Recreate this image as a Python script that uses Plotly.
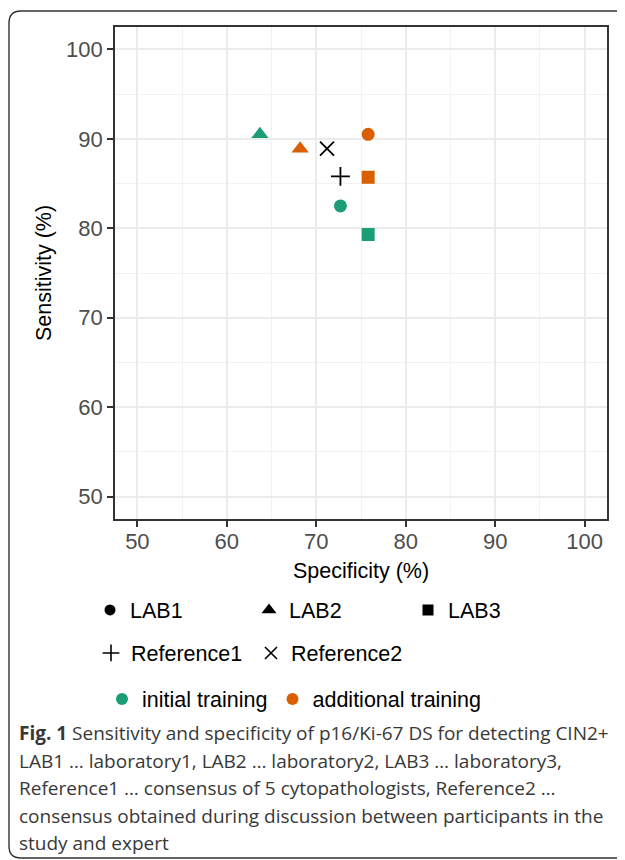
import plotly.graph_objects as go

# ---------------- data ----------------
labs = ["LAB1", "LAB2", "LAB3"]
spec_initial = [72.7, 63.7, 75.8]
sens_initial = [82.5, 90.5, 79.3]
spec_additional = [75.8, 68.2, 75.8]
sens_additional = [90.5, 88.9, 85.7]
references = ["Reference1", "Reference2"]
spec_reference = [72.7, 71.2]
sens_reference = [85.8, 88.9]
trainings = ["initial training", "additional training"]
axis_ticks = [50, 60, 70, 80, 90, 100]
caption_lines = [
    "<b>Fig. 1</b> Sensitivity and specificity of p16/Ki-67 DS for detecting CIN2+",
    "LAB1 \u2026 laboratory1, LAB2 \u2026 laboratory2, LAB3 \u2026 laboratory3,",
    "Reference1 \u2026 consensus of 5 cytopathologists, Reference2 \u2026",
    "consensus obtained during discussion between participants in the",
    "study and expert",
]

# ---------------- styles / layout (screen pixels, page body has 8px margin) ----------------
OFF = 8
W, H = 625 - OFF, 860 - OFF
P_LEFT, P_RIGHT, P_TOP, P_BOTTOM = 115, 607, 27, 519   # panel in screen px
ML = P_LEFT - OFF
MT = P_TOP - OFF
MR = W - (P_RIGHT - OFF)
MB = H - (P_BOTTOM - OFF)
PW, PH = W - ML - MR, H - MT - MB

lab_symbol = {"LAB1": "circle", "LAB2": "triangle-up", "LAB3": "square"}
lab_size = {"LAB1": 13, "LAB2": 15, "LAB3": 13}
lab_legend_size = {"LAB1": 11, "LAB2": 13, "LAB3": 11}
ref_symbol = {"Reference1": "cross-thin", "Reference2": "x-thin"}
ref_size = {"Reference1": 13.5, "Reference2": 14}
ref_legend_size = {"Reference1": 12, "Reference2": 12}
training_color = {"initial training": "#1B9E77", "additional training": "#D95F02"}
FONT = "Liberation Sans, Arial, sans-serif"


def PX(sx):  # screen x -> paper x
    return (sx - OFF - ML) / PW


def PY(sy):  # screen y -> paper y
    return 1 - (sy - OFF - MT) / PH


def CX(sx):  # screen x -> container x
    return (sx - OFF) / W


def CY(sy):  # screen y -> container y
    return 1 - (sy - OFF) / H


fig = go.Figure()

# data points
for tr, xs, ys in [("initial training", spec_initial, sens_initial),
                   ("additional training", spec_additional, sens_additional)]:
    fig.add_trace(go.Scatter(
        x=xs, y=ys, mode="markers", showlegend=False, name=tr,
        marker=dict(symbol=[lab_symbol[l] for l in labs],
                    size=[lab_size[l] for l in labs], opacity=1,
                    color=training_color[tr], line=dict(width=0)),
        hoverinfo="x+y+text", text=labs))

for i, r in enumerate(references):
    fig.add_trace(go.Scatter(
        x=[spec_reference[i]], y=[sens_reference[i]], mode="markers",
        showlegend=False, name=r,
        marker=dict(symbol=ref_symbol[r], size=ref_size[r], color="black", opacity=1,
                    line=dict(width=1.8, color="black"))))

# legend keys
for l in labs:
    fig.add_trace(go.Scatter(
        x=[None], y=[None], mode="markers", name=l, legend="legend",
        marker=dict(symbol=lab_symbol[l], size=lab_legend_size[l], color="black")))
for r in references:
    fig.add_trace(go.Scatter(
        x=[None], y=[None], mode="markers", name=r, legend="legend2",
        marker=dict(symbol=ref_symbol[r], size=ref_legend_size[r], color="black",
                    line=dict(width=1.6, color="black"))))
for t in trainings:
    fig.add_trace(go.Scatter(
        x=[None], y=[None], mode="markers", name=t, legend="legend3",
        marker=dict(symbol="circle", size=12, color=training_color[t])))

axis_common = dict(
    range=[47.5, 102.5], tickvals=axis_ticks, ticktext=[str(v) for v in axis_ticks],
    showgrid=True, gridcolor="#EBEBEB", gridwidth=1.8,
    minor=dict(dtick=5, tick0=0, showgrid=True, gridcolor="#F2F2F2", gridwidth=0.9),
    zeroline=False, showline=True, linecolor="#333333", linewidth=1.6, mirror=True,
    ticks="outside", ticklen=6, tickwidth=1.6, tickcolor="#333333",
    tickfont=dict(family=FONT, size=22, color="#4D4D4D"),
    fixedrange=True,
)

legend_common = dict(orientation="h", xref="container", yref="container",
                     xanchor="left", yanchor="middle", bgcolor="rgba(0,0,0,0)",
                     borderwidth=0, font=dict(family=FONT, size=21.5, color="black"),
                     itemclick=False, itemdoubleclick=False)

fig.update_layout(
    width=W, height=H,
    margin=dict(l=ML, r=MR, t=MT, b=MB, autoexpand=False),
    paper_bgcolor="white", plot_bgcolor="white",
    xaxis=dict(axis_common, ticklabelstandoff=-4,
               title=dict(text="Specificity (%)", standoff=10,
                          font=dict(family=FONT, size=21.5, color="black"))),
    yaxis=dict(axis_common,
               title=dict(text="Sensitivity (%)", standoff=9,
                          font=dict(family=FONT, size=21.5, color="black"))),
    legend=dict(legend_common, x=CX(90), y=CY(610), entrywidth=114, entrywidthmode="pixels"),
    legend2=dict(legend_common, x=CX(91), y=CY(653), entrywidth=115, entrywidthmode="pixels"),
    legend3=dict(legend_common, x=CX(102), y=CY(699)),
    showlegend=True,
)

# outer rounded frame
r = 12
L, T, B, R = 9, 11, 858, 680
frame_path = (f"M{PX(L)},{PY(B - r)} L{PX(L)},{PY(T + r)} Q{PX(L)},{PY(T)} {PX(L + r)},{PY(T)} "
              f"L{PX(R)},{PY(T)} M{PX(L)},{PY(B - r)} Q{PX(L)},{PY(B)} {PX(L + r)},{PY(B)} L{PX(R)},{PY(B)}")
fig.add_shape(type="path", path=frame_path, xref="paper", yref="paper",
              line=dict(color="#333333", width=1.4), layer="above")

# caption
cap_y0, cap_dy = 733, 27.5
for i, line in enumerate(caption_lines):
    fig.add_annotation(text=line, xref="paper", yref="paper", x=PX(17),
                       y=PY(cap_y0 + i * cap_dy), xanchor="left", yanchor="middle",
                       showarrow=False, align="left",
                       font=dict(family="Open Sans, sans-serif", size=19, color="#383838"))

fig.write_html("out.html")
